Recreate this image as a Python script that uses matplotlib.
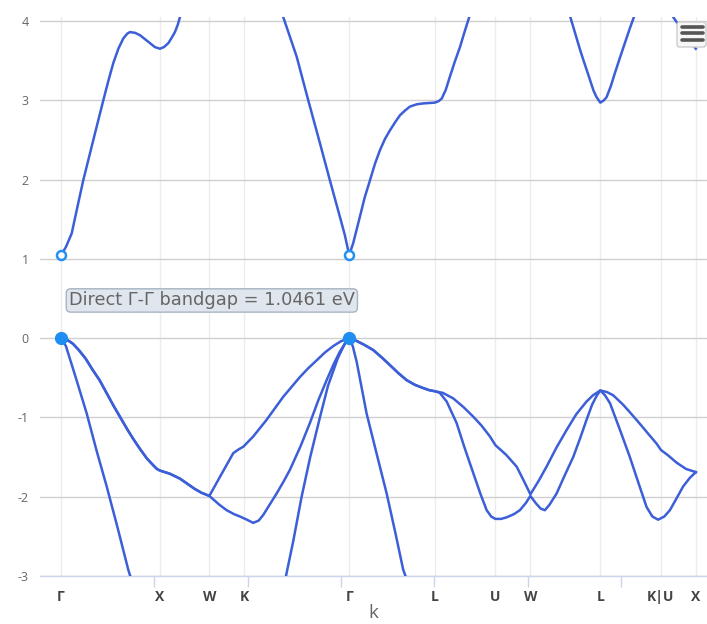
import numpy as np
import matplotlib
matplotlib.use("Agg")
from matplotlib import pyplot as plt
from matplotlib.patches import FancyBboxPatch

plt.rcParams['font.family'] = ['Open Sans', 'DejaVu Sans']

# high-symmetry points along the fcc path (distance in units of 2*pi/a)
kpoint_labels = ["Γ", "X", "W", "K", "Γ", "L", "U", "W", "L", "K|U", "X"]
kpoint_dist = [0.0, 1.0, 1.5, 1.8536, 2.9142, 3.7802, 4.3926, 4.7462, 5.4533, 6.0657, 6.4193]

# valence band 1 (highest)
v1_k = [0.0, 0.06, 0.12, 0.18, 0.25, 0.32, 0.39, 0.46, 0.53, 0.6, 0.67, 0.73, 0.8, 0.87, 0.93, 0.97, 1.0,
        1.1, 1.2, 1.27, 1.35, 1.42, 1.5,
        1.607, 1.742, 1.8, 1.843, 1.944, 2.079, 2.247, 2.416, 2.5, 2.585, 2.67, 2.753, 2.83, 2.9142,
        2.98, 3.06, 3.157, 3.24, 3.326, 3.41, 3.495, 3.58, 3.663, 3.72, 3.7802,
        3.86, 3.966, 4.07, 4.168, 4.25, 4.337, 4.3926, 4.5, 4.607, 4.68, 4.7462,
        4.83, 4.91, 5.01, 5.112, 5.21, 5.314, 5.38, 5.4533,
        5.52, 5.583, 5.684, 5.77, 5.853, 5.94, 6.022, 6.0657, 6.14, 6.224, 6.32, 6.4193]
v1_e = [0.0, -0.02, -0.07, -0.15, -0.26, -0.40, -0.53, -0.69, -0.85, -1.0, -1.15, -1.27, -1.40, -1.52, -1.60, -1.65, -1.67,
        -1.71, -1.77, -1.83, -1.90, -1.95, -1.99,
        -1.75, -1.45, -1.40, -1.37, -1.24, -1.03, -0.74, -0.49, -0.38, -0.28, -0.18, -0.10, -0.04, 0.0,
        -0.03, -0.08, -0.15, -0.24, -0.34, -0.44, -0.53, -0.59, -0.63, -0.655, -0.67,
        -0.69, -0.76, -0.87, -0.99, -1.10, -1.24, -1.35, -1.47, -1.62, -1.80, -1.97,
        -1.80, -1.62, -1.38, -1.16, -0.96, -0.80, -0.72, -0.66,
        -0.68, -0.72, -0.84, -0.96, -1.08, -1.21, -1.33, -1.41, -1.48, -1.57, -1.65, -1.69]

# valence band 2
v2_k = [0.0, 0.06, 0.12, 0.18, 0.25, 0.32, 0.39, 0.46, 0.53, 0.6, 0.67, 0.73, 0.8, 0.87, 0.93, 0.97, 1.0,
        1.1, 1.2, 1.27, 1.35, 1.42, 1.5,
        1.6, 1.675, 1.75, 1.81, 1.88, 1.944, 2.0, 2.045, 2.11, 2.18, 2.25, 2.315, 2.42, 2.517, 2.6, 2.686,
        2.76, 2.82, 2.87, 2.9142,
        2.98, 3.06, 3.157, 3.24, 3.326, 3.41, 3.495, 3.58, 3.663, 3.72, 3.7802,
        3.83, 3.9, 4.0, 4.08, 4.168, 4.24, 4.304, 4.35, 4.3926, 4.45, 4.506, 4.58, 4.64, 4.7, 4.7462,
        4.8, 4.85, 4.893, 4.94, 5.011, 5.09, 5.179, 5.25, 5.314, 5.37, 5.415, 5.4533,
        5.5, 5.551, 5.65, 5.752, 5.84, 5.921, 5.98, 6.038, 6.1, 6.157, 6.22, 6.291, 6.36, 6.4193]
v2_e = [0.0, -0.02, -0.07, -0.15, -0.26, -0.40, -0.53, -0.69, -0.85, -1.0, -1.15, -1.27, -1.40, -1.52, -1.60, -1.65, -1.67,
        -1.71, -1.77, -1.83, -1.90, -1.95, -1.99,
        -2.10, -2.17, -2.22, -2.25, -2.29, -2.33, -2.30, -2.23, -2.10, -1.96, -1.81, -1.66, -1.37, -1.07, -0.79, -0.53,
        -0.32, -0.17, -0.07, 0.0,
        -0.03, -0.08, -0.15, -0.24, -0.34, -0.44, -0.53, -0.59, -0.63, -0.655, -0.67,
        -0.69, -0.80, -1.07, -1.38, -1.70, -1.96, -2.17, -2.25, -2.28, -2.28, -2.26, -2.22, -2.17, -2.08, -1.99,
        -2.08, -2.15, -2.17, -2.10, -1.96, -1.74, -1.50, -1.26, -1.03, -0.84, -0.73, -0.66,
        -0.72, -0.82, -1.15, -1.50, -1.83, -2.13, -2.25, -2.29, -2.25, -2.17, -2.03, -1.87, -1.76, -1.69]

# valence band 3 (drops below the window away from Γ)
v3_k = [0.0, 0.05, 0.15, 0.26, 0.36, 0.462, 0.57, 0.68, 0.8, 1.0, 1.5, 1.8536, 2.15,
        2.275, 2.35, 2.433, 2.52, 2.618, 2.7, 2.8, 2.87, 2.9142,
        2.95, 2.99, 3.09, 3.19, 3.293, 3.38, 3.46, 3.6, 3.7802,
        4.3926, 4.7462, 5.4533, 6.0657, 6.4193]
v3_e = [0.0, -0.1, -0.5, -0.95, -1.42, -1.87, -2.38, -2.92, -3.4, -3.9, -3.7, -4.1, -3.65,
        -3.0, -2.55, -2.0, -1.5, -1.0, -0.6, -0.25, -0.07, 0.0,
        -0.1, -0.3, -0.95, -1.45, -1.96, -2.45, -2.92, -3.4, -3.7,
        -3.9, -3.8, -3.6, -3.9, -3.9]

# lowest conduction band
c1_k = [0.0, 0.05, 0.108, 0.16, 0.225, 0.327, 0.428, 0.48, 0.529, 0.58, 0.63, 0.67, 0.698, 0.75, 0.799,
        0.85, 0.9, 0.95, 1.0, 1.04, 1.085, 1.12, 1.152, 1.18, 1.203,
        1.5, 1.8536, 2.15,
        2.247, 2.383, 2.5, 2.618, 2.719, 2.82, 2.87, 2.9142,
        2.955, 3.022, 3.07, 3.124, 3.175, 3.225, 3.275, 3.326, 3.377, 3.427, 3.478, 3.528, 3.6, 3.663,
        3.72, 3.7802, 3.82, 3.849, 3.89, 3.933, 3.98, 4.034, 4.08, 4.128,
        4.2, 4.3926, 4.7462, 5.08,
        5.15, 5.2, 5.25, 5.3, 5.348, 5.385, 5.415, 5.4533, 5.49, 5.517, 5.56, 5.6, 5.65, 5.701, 5.75, 5.793,
        5.9, 6.0657, 6.19, 6.26, 6.325, 6.38, 6.4193]
c1_e = [1.046, 1.15, 1.32, 1.62, 1.99, 2.50, 3.0, 3.25, 3.47, 3.65, 3.78, 3.84, 3.86, 3.85, 3.82,
        3.77, 3.72, 3.67, 3.65, 3.67, 3.72, 3.79, 3.86, 3.95, 4.05,
        4.6, 4.7, 4.5,
        4.05, 3.55, 3.0, 2.46, 1.99, 1.53, 1.30, 1.046,
        1.2, 1.53, 1.77, 1.99, 2.2, 2.37, 2.51, 2.62, 2.72, 2.81, 2.87, 2.92, 2.95, 2.96,
        2.965, 2.97, 2.99, 3.02, 3.13, 3.30, 3.48, 3.67, 3.86, 4.05,
        4.3, 4.7, 4.8, 4.33,
        4.05, 3.84, 3.63, 3.44, 3.26, 3.12, 3.04, 2.97, 3.0, 3.04, 3.18, 3.34, 3.53, 3.72, 3.9, 4.05,
        4.4, 4.4, 4.05, 3.92, 3.80, 3.71, 3.65]

vbm_k = [0.0, 2.9142]
vbm_e = [0.0, 0.0]
cbm_k = [0.0, 2.9142]
cbm_e = [1.046, 1.046]
gap_text = "Direct Γ-Γ bandgap = 1.0461 eV"

tick_step = 0.944  # regular axis tick interval

fig = plt.figure(figsize=(7.07, 6.24), dpi=100)
ax = fig.add_axes([40 / 707, 48 / 624, 667 / 707, 559 / 624])

line_col = "#3c5fd8"
for kk, ee in [(v1_k, v1_e), (v2_k, v2_e), (v3_k, v3_e), (c1_k, c1_e)]:
    ax.plot(kk, ee, color=line_col, lw=1.8, zorder=3, solid_joinstyle="round")

ax.plot(vbm_k, vbm_e, "o", ms=8.5, color="#1f8ef1", mec="#1f8ef1", zorder=5, clip_on=False)
ax.plot(cbm_k, cbm_e, "o", ms=6.5, mfc="white", mec="#2490f2", mew=1.8, zorder=5)

ax.text(0.08, 0.475, gap_text, fontsize=12.8, color="#666666", ha="left", va="center", zorder=6,
        family="DejaVu Sans",
        bbox=dict(boxstyle="round,pad=0.15,rounding_size=0.25", fc="#dfe6ee", ec="#a8b4c2", lw=1.0))

ax.set_xlim(-0.2123, 6.532)
ax.set_ylim(-3, 4.05)

ax.set_yticks(range(-3, 5))
ax.set_yticklabels([str(v) for v in range(-3, 5)])
ax.tick_params(axis="y", length=0, pad=8, labelsize=9, labelcolor="#666666")

ax.set_xticks(kpoint_dist)
ax.set_xticklabels(kpoint_labels)
ax.tick_params(axis="x", which="major", length=0, pad=10, labelsize=10, labelcolor="#444444")
for lab in ax.get_xticklabels():
    lab.set_fontweight("bold")
ax.set_xticks(np.arange(0, 6.5, tick_step), minor=True)
ax.tick_params(axis="x", which="minor", length=8, width=1, color="#ccd6eb")

ax.grid(axis="y", color="#d0d0d0", lw=1)
ax.grid(axis="x", which="major", color="#ececec", lw=1)
ax.set_axisbelow(True)

for side in ["top", "right", "left"]:
    ax.spines[side].set_visible(False)
ax.spines["bottom"].set_color("#ccd6eb")
ax.spines["bottom"].set_linewidth(1)

ax.set_xlabel("k", fontsize=13.5, color="#666666", labelpad=0)

# export menu button
fig.patches.append(FancyBboxPatch((677 / 707, 1 - 47 / 624), 29 / 707, 25 / 624,
                                  boxstyle="round,pad=0,rounding_size=0.004",
                                  transform=fig.transFigure, fc="#f7f7f7", ec="#cccccc",
                                  lw=1, zorder=1))
for yb in [26.5, 33, 39.5]:
    fig.lines.append(plt.Line2D([682 / 707, 703 / 707], [1 - yb / 624, 1 - yb / 624],
                                transform=fig.transFigure, color="#555555", lw=2.6,
                                solid_capstyle="round", zorder=2))

fig.savefig("out.png", dpi=100, facecolor="white")
